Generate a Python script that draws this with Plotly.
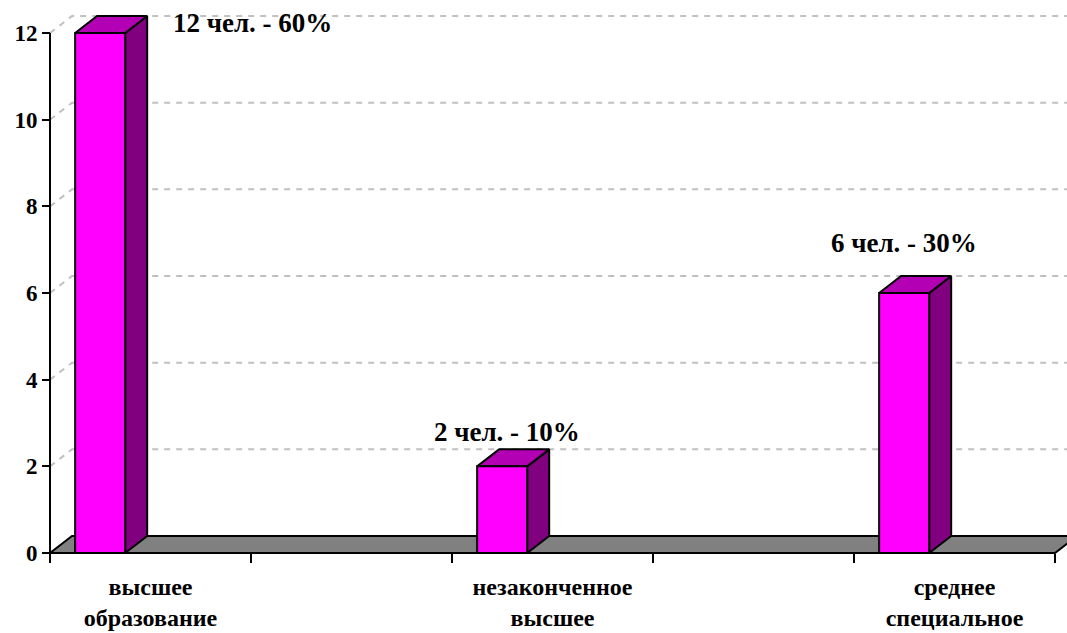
import plotly.graph_objects as go

# ---- data ----
categories = ["высшее<br>образование", "", "незаконченное<br>высшее", "", "среднее<br>специальное"]
values = [12, None, 2, None, 6]
labels = ["12 чел. - 60%", None, "2 чел. - 10%", None, "6 чел. - 30%"]
y_ticks = [0, 2, 4, 6, 8, 10, 12]

# ---- geometry / style ----
W, H = 1067, 633
ml, mr, mt, mb = 40, 0, 5, 70
PX_X = 201.0          # pixels per category
PX_Y = 43.33          # pixels per unit
x0_pix_off = 10       # axis offset from plot edge (px)
xr = [-0.5 - x0_pix_off / PX_X, -0.5 + (W - ml - mr - x0_pix_off) / PX_X]
yr = [-x0_pix_off / PX_Y, (H - mb - mt - x0_pix_off) / PX_Y]
DX = 22 / PX_X        # 3D depth (x)
DY = 17 / PX_Y        # 3D depth (y)
BAR_L, BAR_R = -0.375, -0.126   # front face relative to category centre
lab_off = [(0.505, 0.23), None, (-0.226, 0.79), None, (-0.251, 1.15)]

FRONT, TOP, SIDE = "#FF00FF", "#B400B4", "#800080"
FONT = "'Liberation Serif', 'Times New Roman', Times, serif"

fig = go.Figure()

# dashed grid on back wall + left wall
n = len(categories)
for v in y_ticks[1:]:
    fig.add_trace(go.Scatter(
        x=[-0.5, -0.5 + DX, n - 0.5 + DX], y=[v, v + DY, v + DY],
        mode="lines", line=dict(color="#C0C0C0", width=2, dash="6px,6px"),
        hoverinfo="skip", showlegend=False))

# floor
fig.add_trace(go.Scatter(
    x=[-0.5, n - 0.5, n - 0.5 + DX, -0.5 + DX, -0.5],
    y=[0, 0, DY, DY, 0], fill="toself", fillcolor="#808080",
    mode="lines", line=dict(color="black", width=2),
    hoverinfo="skip", showlegend=False))

# bars (3D)
for i, v in enumerate(values):
    if v is None:
        continue
    a, b = i + BAR_L, i + BAR_R
    faces = [
        ([b, b + DX, b + DX, b, b], [0, DY, v + DY, v, 0], SIDE),
        ([a, b, b + DX, a + DX, a], [v, v, v + DY, v + DY, v], TOP),
        ([a, b, b, a, a], [0, 0, v, v, 0], FRONT),
    ]
    for fx, fy, col in faces:
        fig.add_trace(go.Scatter(
            x=fx, y=fy, fill="toself", fillcolor=col, mode="lines",
            line=dict(color="black", width=2), hoverinfo="skip", showlegend=False))

# axis lines
fig.add_trace(go.Scatter(x=[-0.5, n - 0.5], y=[0, 0], mode="lines",
                         line=dict(color="black", width=2), hoverinfo="skip", showlegend=False))
fig.add_trace(go.Scatter(x=[-0.5, -0.5], y=[0, y_ticks[-1]], mode="lines",
                         line=dict(color="black", width=2), hoverinfo="skip", showlegend=False))

# data labels
for i, (v, t) in enumerate(zip(values, labels)):
    if v is None:
        continue
    ox, oy = lab_off[i]
    fig.add_annotation(x=i + ox, y=v + oy, text="<b>" + t + "</b>", showarrow=False,
                       xanchor="center", yanchor="middle",
                       font=dict(family=FONT, size=27, color="black", weight="bold"))

fig.update_layout(
    width=W, height=H, margin=dict(l=ml, r=mr, t=mt, b=mb, autoexpand=False),
    paper_bgcolor="white", plot_bgcolor="white", showlegend=False,
    xaxis=dict(range=xr, anchor="free", position=x0_pix_off / (H - mt - mb),
               automargin=False,
               tickvals=[0, 2, 4],
               ticktext=["<b>" + c + "</b>" for c in (categories[0], categories[2], categories[4])],
               ticks="outside", ticklen=12, tickcolor="rgba(0,0,0,0)",
               showgrid=False, zeroline=False, showline=False,
               tickfont=dict(family=FONT, size=24, color="black", weight="bold"),
               minor=dict(tickmode="array", tickvals=[k - 0.5 for k in range(n + 1)],
                          ticks="outside", ticklen=9, tickwidth=2, tickcolor="black",
                          showgrid=False)),
    yaxis=dict(range=yr, anchor="free", position=x0_pix_off / (W - ml - mr),
               automargin=False,
               tickvals=y_ticks, ticktext=["<b>%d</b>" % t for t in y_ticks],
               ticks="outside", ticklen=8, tickwidth=2, tickcolor="black",
               showgrid=False, zeroline=False, showline=False,
               tickfont=dict(family=FONT, size=23, color="black", weight="bold")),
)

fig.write_html("out.html", config={"displayModeBar": False},
               post_script="document.body.style.margin='0';document.body.style.overflow='hidden';")
